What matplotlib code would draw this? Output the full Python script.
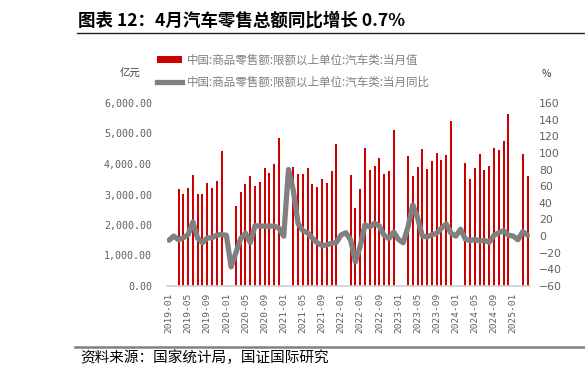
import numpy as np
import pandas as pd
import matplotlib
matplotlib.use("Agg")
import matplotlib.pyplot as plt
from matplotlib.lines import Line2D
from matplotlib.patches import Patch

plt.rcParams['font.family'] = ['Noto Sans CJK SC', 'DejaVu Sans']
plt.rcParams['axes.unicode_minus'] = True

# ---------------- data ----------------
months = pd.date_range('2019-01-01', periods=76, freq='MS')
nan = np.nan
retail_2019 = [nan, nan, 3180, 3030, 3220, 3650, 3030, 3030, 3370, 3220, 3450, 4410]
retail_2020 = [nan, nan, 2610, 3080, 3350, 3610, 3290, 3410, 3870, 3700, 4000, 4850]
retail_2021 = [nan, nan, 3900, 3680, 3680, 3870, 3340, 3260, 3520, 3370, 3780, 4640]
retail_2022 = [nan, nan, 3650, 2560, 3190, 4520, 3810, 3950, 4210, 3680, 3780, 5100]
retail_2023 = [nan, nan, 4250, 3600, 3900, 4500, 3830, 4100, 4370, 4120, 4290, 5400]
retail_2024 = [nan, nan, 4040, 3500, 3870, 4340, 3800, 3930, 4520, 4450, 4750, 5650]
retail_2025 = [nan, nan, 4320, 3600]

yoy_2019 = [-5, 0, -4.4, -2, 1.7, 17, -2.6, -8, -2.3, -2, 1.2, 1.8]
yoy_2020 = [1, -37, -20, -3, 3.5, -8, 12.5, 12, 12, 12, 12, 9.5]
yoy_2021 = [0, 80, 55, 15, 6.5, 4, -2.5, -8, -11.4, -10.6, -8.6, -7.8]
yoy_2022 = [1.4, 4, -4.6, -31, -12, 13.5, 11, 15.5, 12, 1, -3, 5]
yoy_2023 = [-4, -8, 11, 37.5, 22, 0, -1, 1.5, 3.4, 9.5, 14.7, 3.4]
yoy_2024 = [0, 8.3, -3.7, -5.5, -4, -6, -5, -7.5, 1, 4, 6.6, 1]
yoy_2025 = [0, -4.4, 5.4, 1]

retail = np.array(retail_2019 + retail_2020 + retail_2021 + retail_2022 +
                  retail_2023 + retail_2024 + retail_2025, dtype=float)
yoy = np.array(yoy_2019 + yoy_2020 + yoy_2021 + yoy_2022 +
               yoy_2023 + yoy_2024 + yoy_2025, dtype=float)

left_ticks = [0, 1000, 2000, 3000, 4000, 5000, 6000]
right_ticks = list(range(-60, 161, 20))

title = '图表 12：4月汽车零售总额同比增长 0.7%'
label_bar = '中国:商品零售额:限额以上单位:汽车类:当月值'
label_line = '中国:商品零售额:限额以上单位:汽车类:当月同比'
source = '资料来源：国家统计局，国证国际研究'

# ---------------- figure ----------------
W, H = 585, 376
fig = plt.figure(figsize=(W / 100, H / 100), dpi=100)
ax = fig.add_axes([166.6 / W, (H - 286) / H, (529.9 - 166.6) / W, 183 / H])
x = np.arange(len(months))

bar_color = '#CC0000'
line_color = '#808080'
tick_color = '#606060'
mono = ['DejaVu Sans Mono', 'Noto Sans CJK SC']

ax.bar(x, retail, width=0.42, color=bar_color, zorder=2)
ax.set_xlim(-0.5, len(months) - 0.5)
ax.set_ylim(0, 6000)
ax.set_yticks(left_ticks)
ax.set_yticklabels([f'{v:,.2f}' for v in left_ticks], family=mono)

ax2 = ax.twinx()
ax2.plot(x, yoy, color=line_color, lw=3.8, solid_joinstyle='round',
         solid_capstyle='round', zorder=3)
ax2.set_ylim(-60, 160)
ax2.set_yticks(right_ticks)
ax2.set_yticklabels([str(v) if v >= 0 else '\u2212' + str(-v) for v in right_ticks],
                    family=['DejaVu Sans', 'Noto Sans CJK SC'])

xt = list(range(0, len(months), 4))
ax.set_xticks(xt)
ax.set_xticklabels([months[i].strftime('%Y-%m') for i in xt], rotation=90, family=mono)

for a in (ax, ax2):
    for s in a.spines.values():
        s.set_visible(False)
    a.tick_params(length=0, colors=tick_color)
ax.spines['bottom'].set_visible(True)
ax.spines['bottom'].set_color('#D0D0D0')
ax.spines['bottom'].set_linewidth(1.2)
ax.tick_params(axis='y', pad=10.5, labelsize=7.2)
ax2.tick_params(axis='y', pad=6.5, labelsize=7.8)
ax.tick_params(axis='x', pad=5, labelsize=6.8)

# legend
handles = [Patch(facecolor=bar_color, edgecolor='none'),
           Line2D([0], [0], color=line_color, lw=3.8)]
leg = fig.legend(handles, [label_bar, label_line], loc='upper left',
                 bbox_to_anchor=(152 / W, 1 - 49 / H), frameon=False,
                 fontsize=8.3, handlelength=2.2, handleheight=0.45,
                 labelspacing=0.8, handletextpad=0.4, borderaxespad=0)
for t in leg.get_texts():
    t.set_color('#808080')

fig.text(130 / W, 1 - 74 / H, '亿元', ha='center', va='center', fontsize=7.5, color='#404040')
fig.text(546 / W, 1 - 74 / H, '%', ha='center', va='center', fontsize=7.5, color='#404040')

# title & rules
fig.text(78 / W, 1 - 21 / H, title, ha='left', va='center', fontsize=12.6,
         fontweight='bold', color='#000000')
fig.add_artist(Line2D([77 / W, 1.0], [1 - 33 / H, 1 - 33 / H], color='#222222', lw=1.0))
fig.add_artist(Line2D([75 / W, 1.0], [1 - 346.5 / H, 1 - 346.5 / H], color='#808080', lw=1.8))
fig.text(80 / W, 1 - 358 / H, source, ha='left', va='center', fontsize=10.5,
         style='italic', color='#000000')

fig.savefig('out.png', dpi=100)
